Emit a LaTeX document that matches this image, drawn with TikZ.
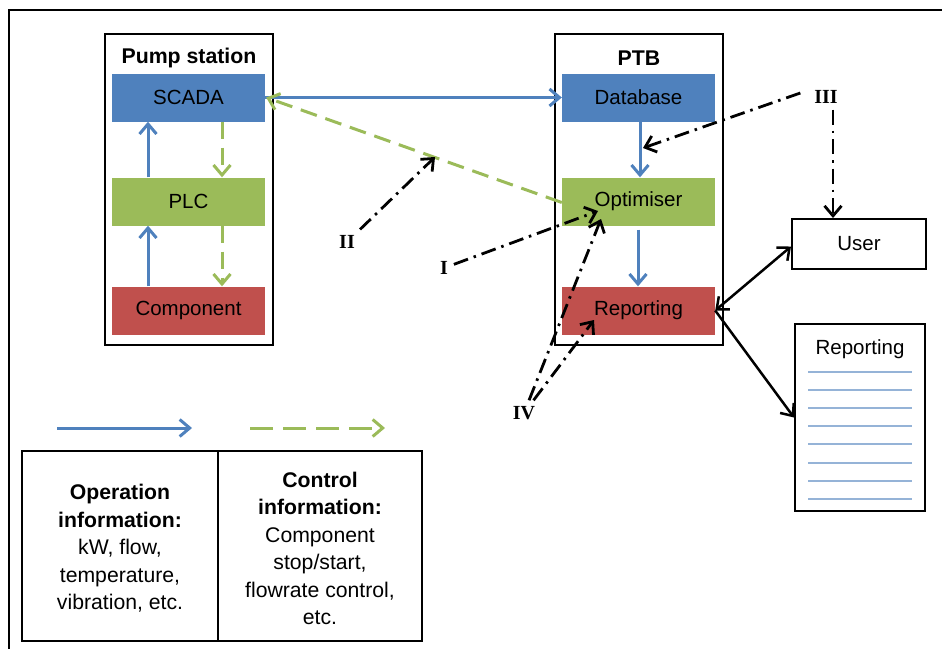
\documentclass[tikz,border=0pt]{standalone}
\usepackage{fontspec}
\setmainfont{Liberation Sans}
\newfontfamily\romanfont{Liberation Serif}
\usetikzlibrary{arrows.meta,calc}

\definecolor{opblue}{HTML}{4F81BD}
\definecolor{ctgreen}{HTML}{9BBB59}
\definecolor{cmpred}{HTML}{C0504D}
\definecolor{docline}{HTML}{95B3D7}

\begin{document}
\begin{tikzpicture}[x=1pt,y=-1pt,
  barb/.style={-{Straight Barb[length=10pt,width=17pt]}},
  barbs/.style={{Straight Barb[length=10pt,width=17pt]}-{Straight Barb[length=10pt,width=17pt]}},
  unit/.style={minimum width=153pt,minimum height=48pt,inner sep=0pt,
    font=\fontsize{20.5}{24}\selectfont},
  panel/.style={draw,line width=2pt,inner sep=0pt},
  paneltitle/.style={font=\bfseries\fontsize{21.3}{24}\selectfont,inner sep=0pt},
  opflow/.style={draw=opblue,line width=3pt,barb},
  ctflow/.style={draw=ctgreen,line width=3pt,dash pattern=on 17pt off 9pt,barb},
  refmark/.style={font=\romanfont\bfseries\fontsize{20}{22}\selectfont,inner sep=1pt,outer sep=5pt},
  refflow/.style={draw,line width=2.8pt,dash pattern=on 15pt off 6pt on 2.5pt off 6pt,barb},
  link/.style={draw,line width=2.5pt},
  legendcell/.style={draw,line width=2pt,align=center,inner sep=0pt,
    font=\fontsize{21.2}{27.5}\selectfont},
]
\useasboundingbox (0,0) rectangle (942,649);

% outer frame (top and left edges)
\draw[line width=2pt] (942,10) -- (9,10) -- (9,649);

% pump station
\node[panel,minimum width=168pt,minimum height=311pt] (pump) at (189,189.5) {};
\node[paneltitle] (pumptitle) at (189,58) {Pump station};
\node[unit,fill=opblue] (SCADA) at (188.5,97.5) {SCADA};
\node[unit,fill=ctgreen] (PLC) at (188.5,201.5) {PLC};
\node[unit,fill=cmpred] (Component) at (188.5,310.5) {Component};

% PTB
\node[panel,minimum width=168pt,minimum height=311pt] (ptb) at (639,189.5) {};
\node[paneltitle] (ptbtitle) at (639,58) {PTB};
\node[unit,fill=opblue] (Database) at (638.5,97.5) {Database};
\node[unit,fill=ctgreen] (Optimiser) at (638.5,201.5) {Optimiser};
\node[unit,fill=cmpred] (Reporting) at (638.5,310.5) {Reporting};

% user and report document
\node[panel,minimum width=134pt,minimum height=50pt,font=\fontsize{20.5}{24}\selectfont] (User) at (859,243.5) {User};
\node[panel,minimum width=130pt,minimum height=187pt] (doc) at (860,417.5) {};
\node[font=\fontsize{20.5}{24}\selectfont,inner sep=0pt] (doctitle) at (860,349) {Reporting};
\foreach \yy in {372,390,408,426,444,463,481,499}
  \draw[docline,line width=1.5pt] (808,\yy) -- (912,\yy);

% operation flows
\draw[opflow] ([xshift=-40.5pt]PLC.north) -- ([xshift=-40.5pt]SCADA.south);
\draw[opflow] ([xshift=-40.5pt]Component.north) -- ([xshift=-40.5pt]PLC.south);
\draw[opflow] (SCADA.east) -- (Database.west);
\draw[opflow] ([xshift=1.5pt]Database.south) -- ([xshift=1.5pt]Optimiser.north);
\draw[opflow] ([xshift=-0.5pt,yshift=-4pt]Optimiser.south) -- ([xshift=-0.5pt]Reporting.north);

% control flows
\draw[ctflow] ([xshift=33.5pt]SCADA.south) -- ([xshift=33.5pt]PLC.north);
\draw[ctflow] ([xshift=33.5pt]PLC.south) -- ([xshift=33.5pt]Component.north);
\draw[ctflow] ([yshift=-1pt]Optimiser.west) -- ([xshift=1pt]SCADA.east);

% reporting outputs
\draw[link,barbs] (Reporting.east) -- ([yshift=-3pt]User.west);
\draw[link,barb] (Reporting.east) -- (doc.west);

% numbered references
\node[refmark] (II) at (347,242) {II};
\node[refmark] (I) at (444,268) {I};
\node[refmark] (III) at (826,97) {III};
\node[refmark] (IV) at (524,413) {IV};
\coordinate (pII) at (435,157);
\coordinate (pI) at (598,211);
\coordinate (pIII) at (643,148);
\coordinate (pIVa) at (601,219);
\coordinate (pIVb) at (594,320);
\coordinate (pU) at (833,218);
\draw[refflow] (II) -- (pII);
\draw[refflow] (I) -- (pI);
\draw[refflow] ([xshift=-8pt,yshift=4pt]III.west) -- (pIII);
\draw[refflow] (III.south -| pU) -- (pU);
\draw[refflow] (IV) -- (pIVa);
\draw[refflow] (IV) -- (pIVb);

% legend
\coordinate (lb1) at (57,428);
\coordinate (lb2) at (192,428);
\coordinate (lg1) at (250,428);
\coordinate (lg2) at (385,428);
\draw[opflow] (lb1) -- (lb2);
\draw[ctflow,dash pattern=on 23pt off 10pt] (lg1) -- (lg2);
\node[legendcell,minimum width=196pt,minimum height=190pt] (opcell) at (120,546) {};
\node[legendcell,draw=none] (optext) at (120,548.5)
  {\textbf{Operation}\\\textbf{information:}\\kW, flow,\\temperature,\\vibration, etc.};
\node[legendcell,minimum width=204pt,minimum height=190pt] (ctcell) at (320,546) {};
\node[legendcell,draw=none] (cttext) at (320,548.5)
  {\textbf{Control}\\\textbf{information:}\\Component\\stop/start,\\flowrate control,\\etc.};
\end{tikzpicture}
\end{document}
